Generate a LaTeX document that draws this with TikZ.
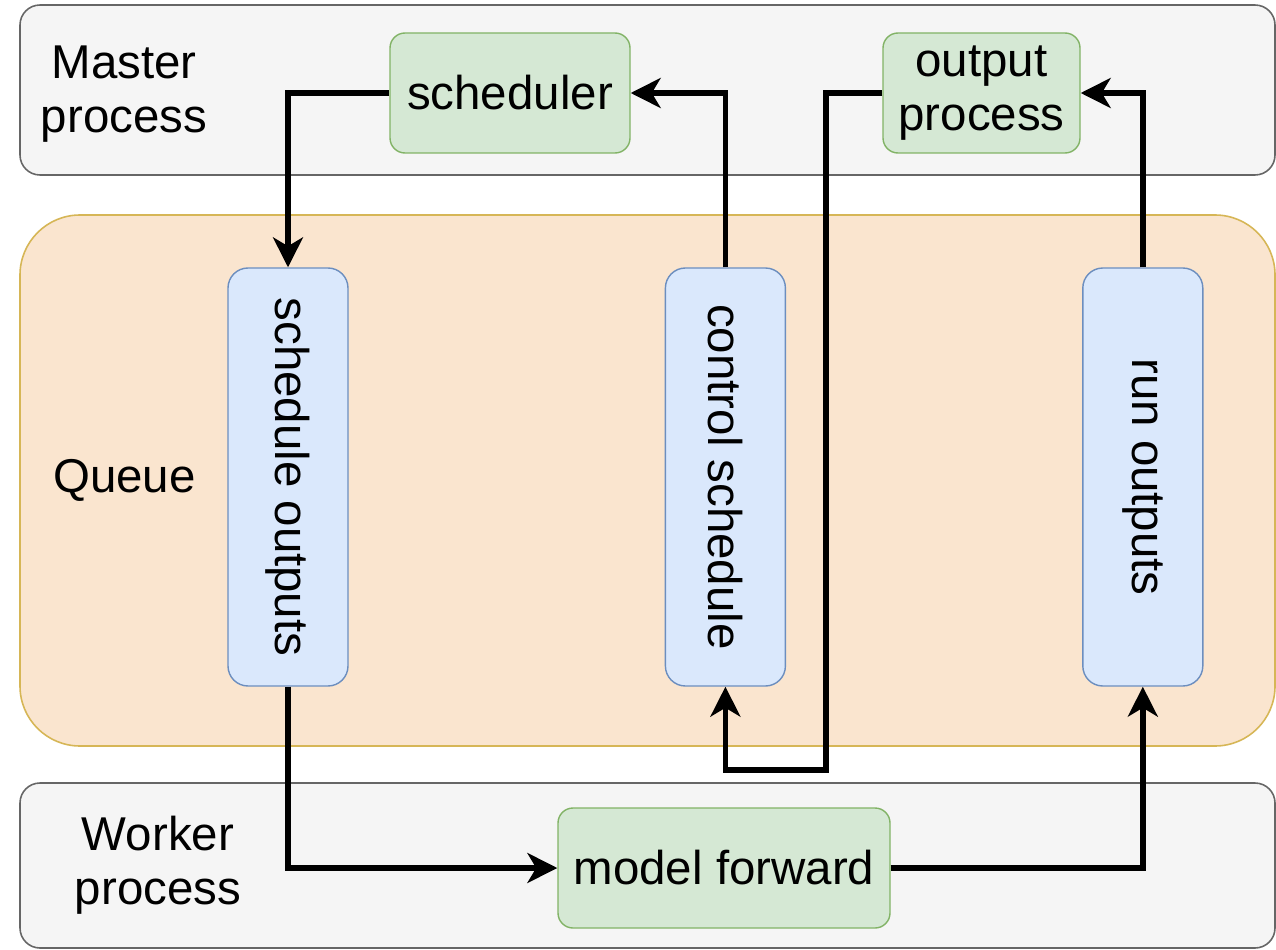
\documentclass[tikz,border=0pt]{standalone}
\usepackage{fontspec}
\setmainfont{Liberation Sans}
\usepackage{graphicx}
\usetikzlibrary{arrows.meta}
\usetikzlibrary{positioning}
\definecolor{bandfill}{HTML}{F5F5F5}
\definecolor{banddraw}{HTML}{666666}
\definecolor{queuefill}{HTML}{FAE5CF}
\definecolor{queuedraw}{HTML}{D6B656}
\definecolor{procfill}{HTML}{D5E8D4}
\definecolor{procdraw}{HTML}{82B366}
\definecolor{bufffill}{HTML}{DAE8FC}
\definecolor{buffdraw}{HTML}{6C8EBF}
\newcommand{\labelfont}[0]{\fontsize{27}{31}\selectfont}

\tikzset{
    band/.style={rectangle, rounded corners=0.4cm, draw=banddraw, fill=bandfill,
        line width=0.9pt, minimum width=25.1cm, minimum height=3.4cm},
    proc/.style={rectangle, rounded corners=0.3cm, draw=procdraw, fill=procfill,
        line width=0.8pt, minimum height=2.4cm, align=center, font=\labelfont},
    buff/.style={rectangle, rounded corners=0.4cm, draw=buffdraw, fill=bufffill,
        line width=0.8pt, minimum width=2.4cm, minimum height=8.36cm, font=\labelfont},
    bandlabel/.style={align=center, font=\labelfont},
    flow/.style={line width=3.1pt, -{Stealth[length=17pt, width=17pt, inset=5pt]}},
}

\begin{document}
\begin{tikzpicture}
    \useasboundingbox (0,0) rectangle (25.52,-19);

    % the three layers
    \node[band] (master) at (12.95,-1.8) {};
    \node[rectangle, rounded corners=1.2cm, draw=queuedraw, fill=queuefill, line width=0.9pt,
        minimum width=25.1cm, minimum height=10.62cm]
        (queue) at (12.95,-9.61) {};
    \node[band, minimum height=3.3cm] (worker) at (12.95,-17.31) {};

    \node[bandlabel] (master_lbl) at (2.48,-1.88) {Master\\process};
    \node[bandlabel] (queue_lbl) at (2.49,-9.6) {Queue};
    \node[bandlabel] (worker_lbl) at (3.16,-17.3) {Worker\\process};

    % processes
    \node[proc, minimum width=4.8cm] (scheduler) at (10.2,-1.86) {scheduler};
    \node[proc, minimum width=3.94cm] (output_proc) at (19.63,-1.86) {output\\process};
    \node[proc, minimum width=6.64cm] (model_fwd) at (14.48,-17.36) {model forward};

    % queues
    \node[buff] (sched_out) at (5.76,-9.54) {\rotatebox{-90}{schedule outputs}};
    \node[buff, right=6.32cm of sched_out] (ctrl_sched) {\rotatebox{-90}{control schedule}};
    \node[buff, right=5.92cm of ctrl_sched] (run_out) {\rotatebox{-90}{run outputs}};

    \coordinate (ctrl_turn) at (16.52,-15.4);

    % data flow
    \draw[flow] (scheduler.west) -| (sched_out.north);
    \draw[flow] (ctrl_sched.north) |- (scheduler.east);
    \draw[flow] (output_proc.west) -| (ctrl_turn) -| (ctrl_sched.south);
    \draw[flow] (run_out.north) |- (output_proc.east);
    \draw[flow] (sched_out.south) |- (model_fwd.west);
    \draw[flow] (model_fwd.east) -| (run_out.south);
\end{tikzpicture}
\end{document}
